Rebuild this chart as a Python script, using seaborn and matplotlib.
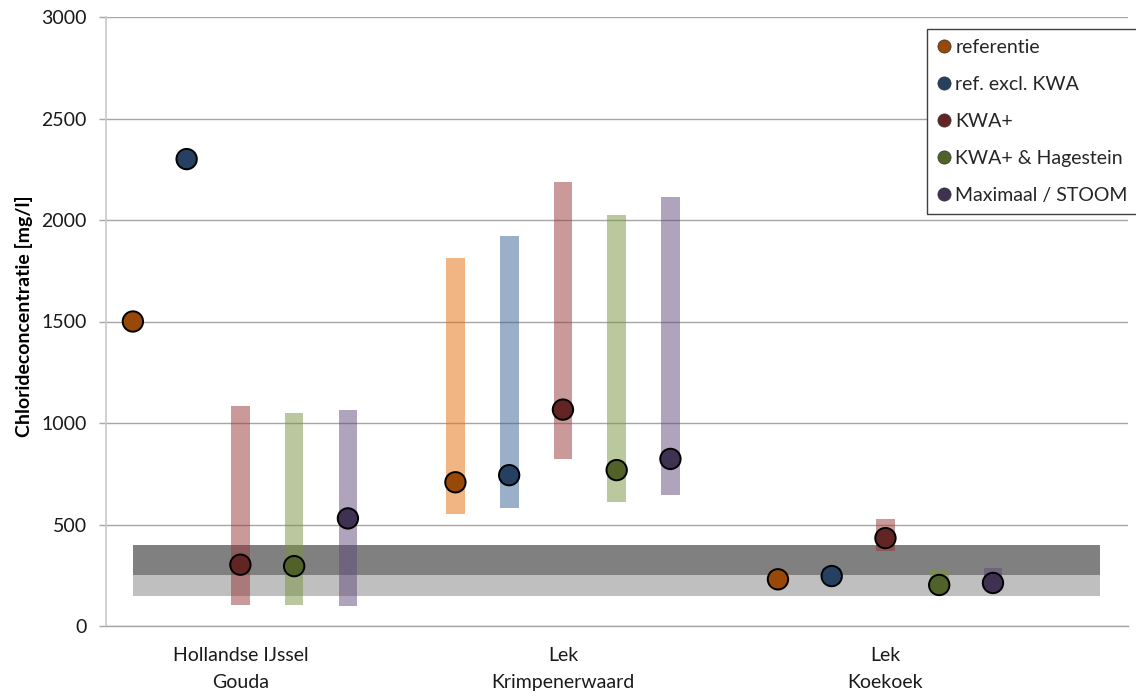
import numpy as np
import pandas as pd
import matplotlib
matplotlib.use("Agg")
import matplotlib.pyplot as plt
import matplotlib.transforms as mtransforms
from matplotlib.lines import Line2D
import seaborn as sns

# Measuring locations and scenarios
locations = ["Hollandse IJssel\nGouda", "Lek\nKrimpenerwaard", "Lek\nKoekoek"]
scenarios = ["referentie", "ref. excl. KWA", "KWA+", "KWA+ & Hagestein", "Maximaal / STOOM"]

# Representative chloride concentration per location [mg/l]
referentie = [1500, 708, 230]
ref_excl_kwa = [2300, 743, 246]
kwa_plus = [302, 1066, 433]
kwa_hagestein = [295, 768, 202]
maximaal_stoom = [530, 823, 212]

# Spread (min / max) per location [mg/l]; NaN where no range is available
referentie_min = [np.nan, 552, 200]
referentie_max = [np.nan, 1811, 281]
ref_excl_kwa_min = [np.nan, 583, 230]
ref_excl_kwa_max = [np.nan, 1921, 287]
kwa_plus_min = [103, 824, 369]
kwa_plus_max = [1084, 2187, 525]
kwa_hagestein_min = [103, 609, 185]
kwa_hagestein_max = [1049, 2025, 274]
maximaal_stoom_min = [100, 647, 190]
maximaal_stoom_max = [1064, 2115, 286]

# Reference bands [mg/l]
band_light = (150, 250)
band_dark = (250, 400)

point_colors = ["#984807", "#254061", "#632523", "#4F6228", "#3F3151"]
range_colors = ["#E46C0A", "#376092", "#953735", "#77933C", "#604A7B"]

values = [referentie, ref_excl_kwa, kwa_plus, kwa_hagestein, maximaal_stoom]
lows = [referentie_min, ref_excl_kwa_min, kwa_plus_min, kwa_hagestein_min, maximaal_stoom_min]
highs = [referentie_max, ref_excl_kwa_max, kwa_plus_max, kwa_hagestein_max, maximaal_stoom_max]
offsets = [-1 / 3, -1 / 6, 0, 1 / 6, 1 / 3]

rows = []
for j, name in enumerate(scenarios):
    for i in range(len(locations)):
        rows.append({"x": i + 1 + offsets[j], "scenario": name,
                     "value": values[j][i], "low": lows[j][i], "high": highs[j][i]})
df = pd.DataFrame(rows)

sns.set_theme(style="white")
plt.rcParams["font.family"] = ["Lato", "DejaVu Sans"]

fig = plt.figure(figsize=(11.36, 6.96), dpi=100)
ax = fig.add_axes([106 / 1136, 70 / 696, 1022 / 1136, 609 / 696])

grid_c = "#A6A6A6"

# Reference bands
ax.fill_between([2 / 3, 3 + 2 / 3], band_light[0], band_light[1], color="#BFBFBF", lw=0, zorder=1)
ax.fill_between([2 / 3, 3 + 2 / 3], band_dark[0], band_dark[1], color="#808080", lw=0, zorder=1)

# Range bars
for j, name in enumerate(scenarios):
    sub = df[df["scenario"] == name].dropna(subset=["low", "high"])
    ax.bar(sub["x"], sub["high"] - sub["low"], bottom=sub["low"], width=0.058,
           color=range_colors[j], alpha=0.5, lw=0, zorder=2)

# Points
sns.scatterplot(data=df, x="x", y="value", hue="scenario", hue_order=scenarios,
                palette=point_colors, s=215, edgecolor="black", linewidth=1.4,
                ax=ax, zorder=3, legend=False)

ax.set_xlim(7 / 12, 3.752)
ax.set_ylim(0, 3000)
ax.set_yticks(np.arange(0, 3001, 500))
ax.yaxis.grid(True, color=grid_c, lw=1.0)
ax.set_axisbelow(True)

# Category boundaries as ticks, location names centred under each group
ax.set_xticks([7 / 12 + k for k in range(4)])
ax.set_xticklabels([])
ax.tick_params(axis="x", length=5, width=1, color=grid_c, direction="out")
xtrans = mtransforms.blended_transform_factory(ax.transData, ax.transAxes)
for i, name in enumerate(locations):
    ax.text(i + 1, -0.034, name, transform=xtrans, ha="center", va="top",
            fontsize=14, color="#1a1a1a", linespacing=1.72)

ax.tick_params(axis="y", length=5, width=1, color=grid_c, pad=9, labelsize=14,
               labelcolor="#1a1a1a", left=True)

for s in ["top", "right"]:
    ax.spines[s].set_visible(False)
ax.spines["left"].set_color("#C8C8C8")
ax.spines["left"].set_linewidth(1.2)
ax.spines["bottom"].set_color(grid_c)
ax.spines["bottom"].set_linewidth(1.0)

ax.set_xlabel("")
ax.set_ylabel("Chlorideconcentratie [mg/l]", fontsize=14, fontweight="bold", color="black")
ax.yaxis.set_label_coords(-0.0714, 0.508)

handles = [Line2D([], [], ls="", marker="o", markersize=9.5, markerfacecolor=c,
                  markeredgecolor="#333333", markeredgewidth=0.5) for c in point_colors]
leg = fig.legend(handles, scenarios, loc="upper left",
                 bbox_to_anchor=(927 / 1136, 1 - 29 / 696), bbox_transform=fig.transFigure,
                 fontsize=14, frameon=True, fancybox=False, shadow=False,
                 handlelength=0.7, handletextpad=0.25, borderpad=0.5,
                 labelspacing=1.03, borderaxespad=0)
leg.get_frame().set_edgecolor("#404040")
leg.get_frame().set_linewidth(1.0)
leg.get_frame().set_facecolor("white")
leg.get_frame().set_alpha(1)

fig.savefig("out.png", dpi=100, facecolor="white")
